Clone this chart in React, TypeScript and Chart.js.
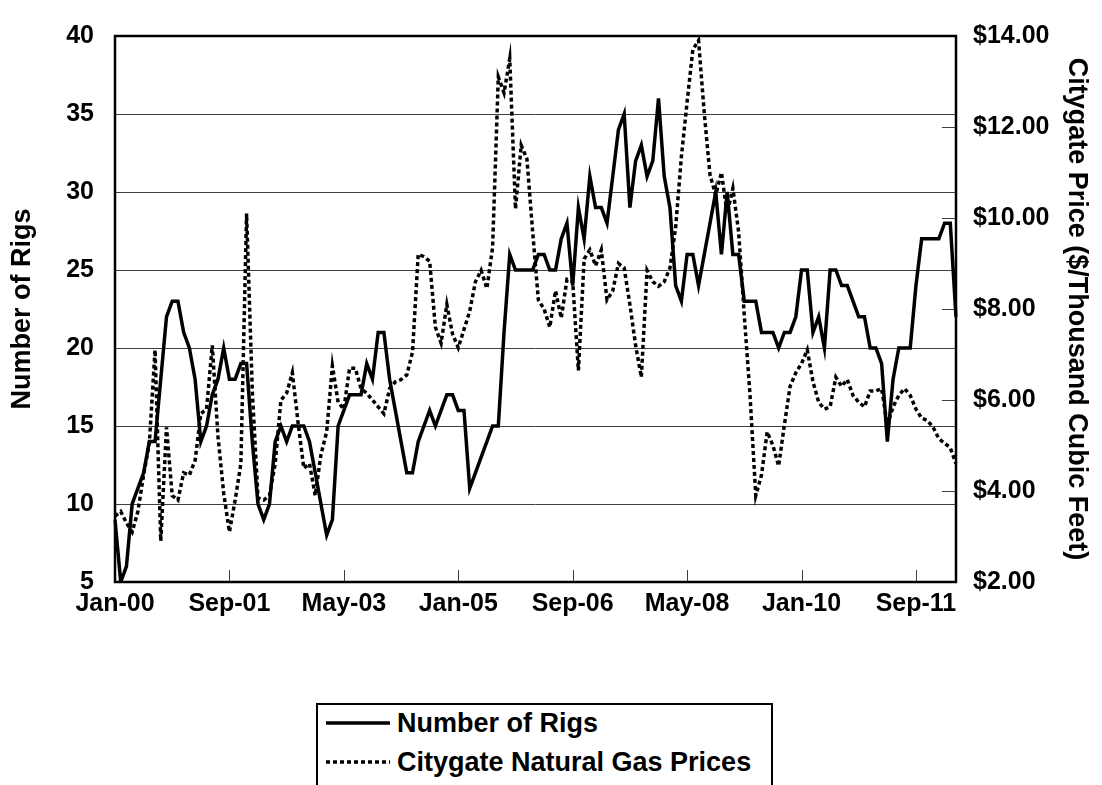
import React, { useEffect, useRef } from "react";
import { Chart, registerables } from "chart.js";

Chart.register(...registerables);

const MONTH_NAMES = ["Jan", "Feb", "Mar", "Apr", "May", "Jun", "Jul", "Aug", "Sep", "Oct", "Nov", "Dec"];
const START_YEAR = 2000;
const MONTH_COUNT = 148;

const categories: string[] = [];
for (let i = 0; i < MONTH_COUNT; i++) {
  const yr = START_YEAR + Math.floor(i / 12);
  categories.push(MONTH_NAMES[i % 12] + "-" + String(yr % 100).padStart(2, "0"));
}

const tickLabels = ["Jan-00", "Sep-01", "May-03", "Jan-05", "Sep-06", "May-08", "Jan-10", "Sep-11"];

const rigs = [
  9, 5, 6, 10, 11, 12, 14, 14, 18, 22, 23, 23, 21, 20, 18, 14, 15, 17, 18, 20,
  18, 18, 19, 19, 14, 10, 9, 10, 14, 15, 14, 15, 15, 15, 14, 12, 10, 8, 9, 15,
  16, 17, 17, 17, 19, 18, 21, 21, 18, 16, 14, 12, 12, 14, 15, 16, 15, 16, 17, 17,
  16, 16, 11, 12, 13, 14, 15, 15, 21, 26, 25, 25, 25, 25, 26, 26, 25, 25, 27, 28,
  24, 29, 27, 31, 29, 29, 28, 31, 34, 35, 29, 32, 33, 31, 32, 36, 31, 29, 24, 23,
  26, 26, 24, 26, 28, 30, 26, 30, 26, 26, 23, 23, 23, 21, 21, 21, 20, 21, 21, 22,
  25, 25, 21, 22, 20, 25, 25, 24, 24, 23, 22, 22, 20, 20, 19, 14, 18, 20, 20, 20,
  24, 27, 27, 27, 27, 28, 28, 22,
];

const prices = [
  3.45, 3.55, 3.3, 3.1, 3.55, 4.35, 5.05, 7.1, 2.9, 5.4, 3.9, 3.8, 4.4, 4.35, 4.67, 5.7, 5.8, 7.2, 5.2, 3.95,
  3.1, 3.8, 4.6, 10.1, 6.2, 3.85, 3.8, 3.9, 4.6, 6.0, 6.15, 6.6, 5.5, 4.5, 4.6, 3.9, 4.8, 5.3, 6.75, 5.95,
  5.8, 6.7, 6.7, 6.25, 6.15, 6.0, 5.85, 5.7, 6.25, 6.4, 6.45, 6.55, 7.05, 9.2, 9.15, 9.05, 7.6, 7.25, 8.1, 7.45,
  7.15, 7.55, 7.95, 8.6, 8.85, 8.45, 9.35, 13.1, 12.75, 13.5, 10.2, 11.6, 11.3, 9.7, 8.2, 8.0, 7.6, 8.4, 7.8, 8.65,
  8.6, 6.65, 9.1, 9.3, 8.95, 9.3, 8.2, 8.4, 9.0, 8.9, 8.1, 7.2, 6.5, 8.85, 8.6, 8.5, 8.6, 8.9, 9.8, 11.35,
  12.55, 13.7, 13.9, 12.3, 10.95, 10.5, 11.0, 10.1, 10.65, 9.7, 7.85, 6.1, 3.9, 4.35, 5.3, 5.0, 4.55, 5.45, 6.3, 6.6,
  6.8, 7.1, 6.4, 5.95, 5.8, 5.85, 6.5, 6.3, 6.45, 6.1, 5.95, 5.85, 6.2, 6.2, 6.25, 5.45, 5.85, 6.1, 6.25, 6.1,
  5.8, 5.6, 5.55, 5.4, 5.15, 5.05, 4.95, 4.6,
];

const LEFT_TITLE = "Number of Rigs";
const RIGHT_TITLE = "Citygate Price ($/Thousand Cubic Feet)";

const FONT_FAMILY = "'Liberation Sans', Arial, Helvetica, sans-serif";
const TICK_FONT = { family: FONT_FAMILY, size: 25, weight: "bold" as const };
const TITLE_FONT = { family: FONT_FAMILY, size: 27, weight: "bold" as const };

const framePlugin = {
  id: "frameAndInnerTicks",
  beforeDatasetsDraw(chart: any) {
    const { ctx, chartArea: a, scales } = chart;
    ctx.save();
    ctx.strokeStyle = "#404040";
    ctx.lineWidth = 1;
    ctx.beginPath();
    for (const t of tickLabels) {
      const idx = categories.indexOf(t);
      const x = Math.round(scales.x.getPixelForValue(idx)) + 0.5;
      ctx.moveTo(x, a.bottom);
      ctx.lineTo(x, a.bottom - 12);
    }
    for (const tk of scales.y1.ticks) {
      const y = Math.round(scales.y1.getPixelForValue(tk.value)) + 0.5;
      ctx.moveTo(a.right, y);
      ctx.lineTo(a.right - 14, y);
    }
    ctx.stroke();
    ctx.restore();
  },
  afterDraw(chart: any) {
    const { ctx, chartArea: a } = chart;
    ctx.save();
    ctx.strokeStyle = "#000";
    ctx.lineWidth = 2.5;
    ctx.strokeRect(a.left, a.top, a.right - a.left, a.bottom - a.top);
    ctx.restore();
  },
};

function LegendSample({ dashed }: { dashed: boolean }) {
  return (
    <svg width={64} height={8} style={{ position: "absolute", left: 8, top: -4 }}>
      <line
        x1={0}
        y1={4}
        x2={64}
        y2={4}
        stroke="#000"
        strokeWidth={3.5}
        strokeDasharray={dashed ? "4 3" : undefined}
      />
    </svg>
  );
}

export default function App() {
  const canvasRef = useRef<HTMLCanvasElement | null>(null);

  useEffect(() => {
    const canvas = canvasRef.current;
    if (!canvas) return;
    const chart = new Chart(canvas, {
      type: "line",
      data: {
        labels: categories,
        datasets: [
          {
            label: "Number of Rigs",
            data: rigs,
            yAxisID: "y",
            borderColor: "#000",
            backgroundColor: "#000",
            borderWidth: 3.5,
            pointRadius: 0,
            tension: 0,
            borderJoinStyle: "miter",
          },
          {
            label: "Citygate Natural Gas Prices",
            data: prices,
            yAxisID: "y1",
            borderColor: "#000",
            backgroundColor: "#000",
            borderWidth: 3.5,
            borderDash: [4, 3],
            pointRadius: 0,
            tension: 0,
          },
        ],
      },
      options: {
        responsive: false,
        animation: false,
        events: [],
        layout: { padding: { top: 22, bottom: 163, left: 0, right: 0 } },
        plugins: {
          legend: { display: false },
          tooltip: { enabled: false },
        },
        scales: {
          x: {
            type: "category",
            offset: false,
            grid: { display: false, drawTicks: false },
            border: { display: false },
            ticks: {
              autoSkip: false,
              maxRotation: 0,
              minRotation: 0,
              padding: 7,
              color: "#000",
              font: TICK_FONT,
              callback: (_v: any, i: number) => (tickLabels.includes(categories[i]) ? categories[i] : null),
            },
            afterFit: (s: any) => {
              s.height = 40;
            },
          },
          y: {
            position: "left",
            min: 5,
            max: 40,
            grid: { color: "#404040", lineWidth: 1, drawTicks: false },
            border: { display: false },
            ticks: { stepSize: 5, padding: 21, color: "#000", font: TICK_FONT },
            title: {
              display: true,
              text: LEFT_TITLE,
              color: "#000",
              font: TITLE_FONT,
              padding: { top: 6, bottom: 0 },
            },
            afterFit: (s: any) => {
              s.width = 115;
            },
          },
          y1: {
            position: "right",
            min: 2,
            max: 14,
            grid: { drawOnChartArea: false, drawTicks: false },
            border: { display: false },
            ticks: {
              stepSize: 2,
              padding: 17,
              color: "#000",
              font: TICK_FONT,
              callback: (v: any) => "$" + Number(v).toFixed(2),
            },
            title: {
              display: true,
              text: RIGHT_TITLE,
              color: "#000",
              font: TITLE_FONT,
              padding: { top: 9, bottom: 0 },
            },
            afterFit: (s: any) => {
              s.width = 146;
            },
          },
        },
      },
      plugins: [framePlugin],
    });
    return () => chart.destroy();
  }, []);

  const legendText: React.CSSProperties = {
    position: "absolute",
    left: 79,
    whiteSpace: "nowrap",
    lineHeight: "1",
  };

  return (
    <div
      style={{
        position: "absolute",
        left: 0,
        top: 0,
        width: 1102,
        height: 785,
        overflow: "hidden",
        background: "#fff",
      }}
    >
      <canvas ref={canvasRef} width={1102} height={785} style={{ display: "block", width: 1102, height: 785 }} />
      <div
        style={{
          position: "absolute",
          left: 316,
          top: 703,
          width: 457,
          height: 110,
          border: "2px solid #000",
          boxSizing: "border-box",
          background: "#fff",
          fontFamily: FONT_FAMILY,
          fontWeight: "bold",
          fontSize: 27,
          color: "#000",
        }}
      >
        <div style={{ position: "absolute", left: 0, top: 18, width: "100%" }}>
          <LegendSample dashed={false} />
          <span style={{ ...legendText, top: -13 }}>Number of Rigs</span>
        </div>
        <div style={{ position: "absolute", left: 0, top: 57, width: "100%" }}>
          <LegendSample dashed={true} />
          <span style={{ ...legendText, top: -13 }}>Citygate Natural Gas Prices</span>
        </div>
      </div>
    </div>
  );
}
